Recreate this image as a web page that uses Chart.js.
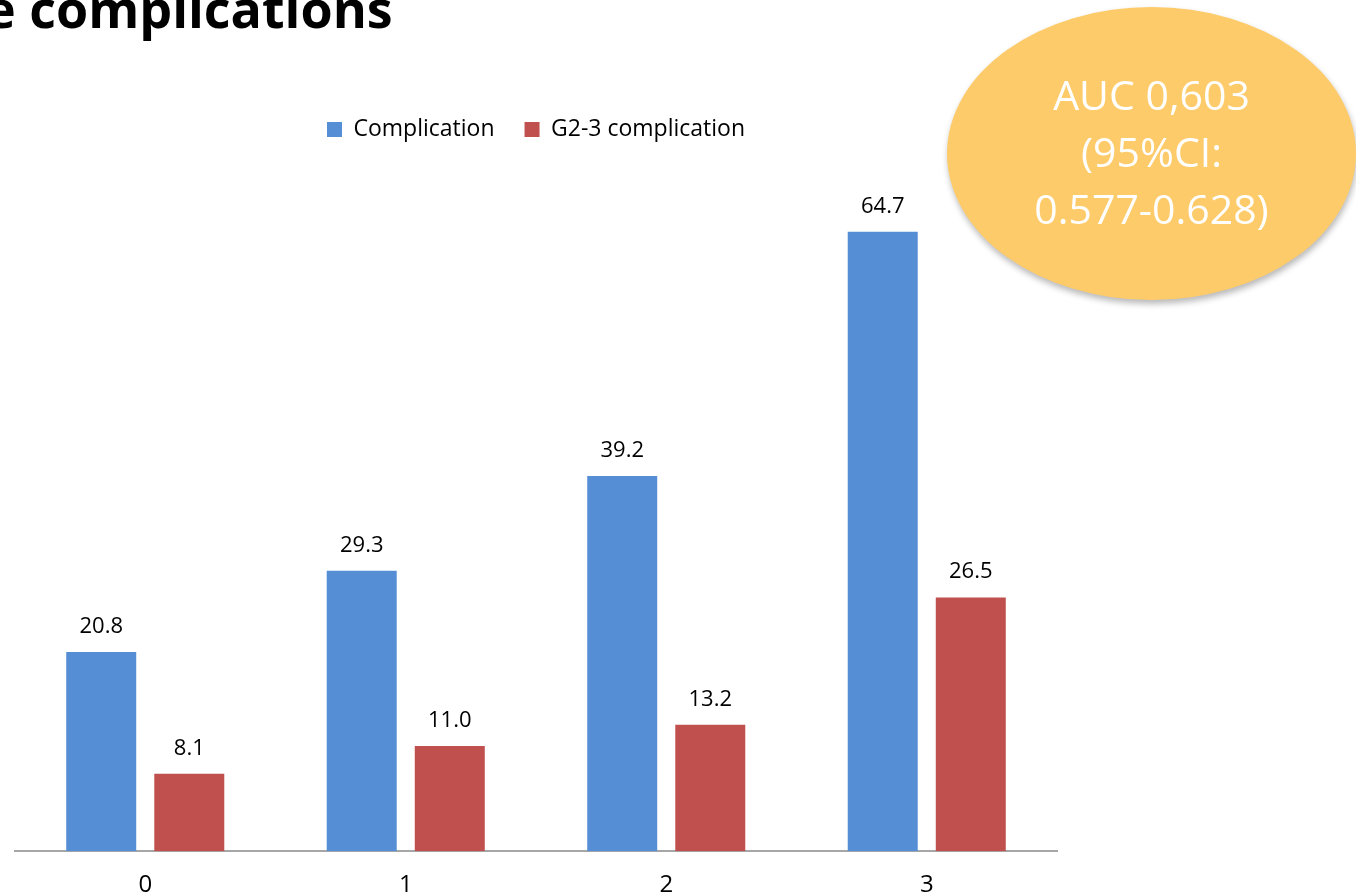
<!DOCTYPE html>
<html>
<head>
<meta charset="utf-8">
<script src="https://cdn.jsdelivr.net/npm/chart.js@4.4.0/dist/chart.umd.min.js"></script>
<style>
  html, body { margin: 0; padding: 0; background: #fff; overflow: hidden; }
  body { width: 1356px; height: 896px; position: relative; font-family: "Open Sans", sans-serif; }
  #title {
    position: absolute; left: -15px; top: -17px;
    font-size: 52px; line-height: 50px; font-weight: 700; color: #000; white-space: nowrap;
  }
  #wrap { position: absolute; left: 0; top: 0; width: 1356px; height: 920px; }
  #auc {
    position: absolute; left: 947px; top: 7px; width: 409px; height: 293px;
    border-radius: 50%; background: #FECB6A;
    box-shadow: 1px 4px 6px rgba(0, 0, 0, 0.28);
  }
  #aucText {
    position: absolute; left: 947px; top: 66px; width: 409px;
    text-align: center; color: #fff; font-size: 41px; line-height: 57px;
  }
</style>
</head>
<body>
<div id="wrap"><canvas id="chart"></canvas></div>
<div id="title">e complications</div>
<div id="auc"></div>
<div id="aucText">AUC 0,603<br>(95%CI:<br>0.577-0.628)</div>
<script>
// score categories and rates (%)
const categories = ['0', '1', '2', '3'];
const complication = [20.8, 29.3, 39.2, 64.7];
const g23Complication = [8.1, 11.0, 13.2, 26.5];

const seriesNames = ['Complication', 'G2-3 complication'];
const seriesColors = ['#558ED5', '#C0504D'];

// value printed above each bar
const valueLabels = {
  id: 'valueLabels',
  afterDatasetsDraw(chart) {
    const ctx = chart.ctx;
    ctx.save();
    ctx.font = '22px "Open Sans"';
    ctx.fillStyle = '#000';
    ctx.textAlign = 'center';
    ctx.textBaseline = 'alphabetic';
    chart.data.datasets.forEach((ds, i) => {
      chart.getDatasetMeta(i).data.forEach((bar, j) => {
        ctx.fillText(ds.data[j].toFixed(1), bar.x, bar.y - 19);
      });
    });
    ctx.restore();
  }
};

// fixed legend height so the plot area starts lower down
const legendHeight = {
  id: 'legendHeight',
  beforeInit(chart) {
    const fit = chart.legend.fit;
    chart.legend.fit = function () {
      fit.bind(chart.legend)();
      this.height = 93;
    };
  }
};

new Chart(document.getElementById('chart'), {
  type: 'bar',
  data: {
    labels: categories,
    datasets: [
      { label: seriesNames[0], data: complication, backgroundColor: seriesColors[0] },
      { label: seriesNames[1], data: g23Complication, backgroundColor: seriesColors[1] }
    ]
  },
  options: {
    responsive: true,
    maintainAspectRatio: false,
    animation: false,
    categoryPercentage: 0.676,
    barPercentage: 0.795,
    layout: { padding: { top: 88, left: 15, right: 299, bottom: 0 } },
    plugins: {
      legend: {
        position: 'top',
        labels: {
          boxWidth: 15, boxHeight: 15, padding: 30,
          color: '#000',
          font: { family: 'Open Sans', size: 23 }
        }
      },
      tooltip: { enabled: false }
    },
    scales: {
      x: {
        grid: { display: false, drawTicks: false },
        border: { display: true, color: '#A6A6A6', width: 2 },
        ticks: { color: '#000', padding: 20, font: { family: 'Open Sans', size: 24 } }
      },
      y: {
        display: false,
        min: 0,
        max: 70
      }
    }
  },
  plugins: [valueLabels, legendHeight]
});
</script>
</body>
</html>
